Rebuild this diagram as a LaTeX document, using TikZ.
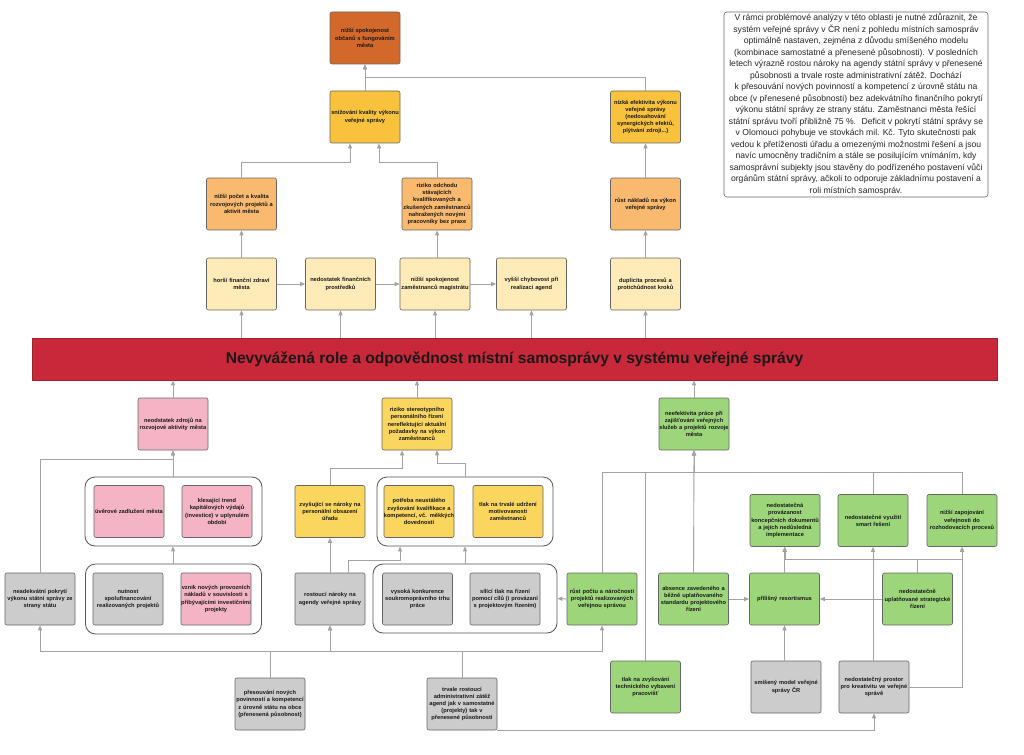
\documentclass[tikz,border=0pt]{standalone}
\usepackage{fontspec}
\setmainfont{Liberation Sans}
\usetikzlibrary{arrows.meta}
\definecolor{cDark}{HTML}{D2692A}
\definecolor{cGold}{HTML}{F8C23C}
\definecolor{cLOr}{HTML}{F9B96E}
\definecolor{cCream}{HTML}{FEEBB8}
\definecolor{cPink}{HTML}{F4B4C6}
\definecolor{cYel}{HTML}{FAD65E}
\definecolor{cGreen}{HTML}{9DD67A}
\definecolor{cGray}{HTML}{CCCCCC}
\definecolor{cRed}{HTML}{C9283A}
\definecolor{boxline}{HTML}{666666}
\definecolor{contline}{HTML}{555555}
\definecolor{linegray}{HTML}{A3A3A3}
\tikzset{
 bx/.style={draw=boxline, rounded corners=2pt, minimum width=70pt, minimum height=52pt, text width=70pt, align=center, inner sep=0pt, font=\fontsize{5.7}{7.2}\selectfont\bfseries, text=black!90, line width=0.6pt},
 cont/.style={draw=contline, rounded corners=10pt, line width=0.8pt, fill=white},
 conn/.style={draw=linegray, line width=0.9pt, -{Triangle[length=5pt,width=4pt]}},
}
\begin{document}
\begin{tikzpicture}[x=1pt,y=-1pt]
\useasboundingbox (0,0) rectangle (1024,754);
\fill[white] (0,0) rectangle (1024,754);

% text box
\node[draw=boxline, rounded corners=3pt, line width=0.6pt, minimum width=264pt, minimum height=185pt, inner sep=0pt, align=center, font=\fontsize{8.6}{11.5}\selectfont, text=black!85] (txt) at (856,104.5) {V rámci problémové analýzy v této oblasti je nutné zdůraznit, že\\ systém veřejné správy v ČR není z pohledu místních samospráv\\ optimálně nastaven, zejména z důvodu smíšeného modelu\\ (kombinace samostatné a přenesené působnosti). V posledních\\ letech výrazně rostou nároky na agendy státní správy v přenesené\\ působnosti a trvale roste administrativní zátěž. Dochází\\ k přesouvání nových povinností a kompetencí z úrovně státu na\\ obce (v přenesené působnosti) bez adekvátního finančního pokrytí\\ výkonu státní správy ze strany státu. Zaměstnanci města řešící\\ státní správu tvoří přibližně 75 \%.~ Deficit v pokrytí státní správy se\\ v Olomouci pohybuje ve stovkách mil. Kč. Tyto skutečnosti pak\\ vedou k přetíženosti úřadu a omezenými možnostmi řešení a jsou\\ navíc umocněny tradičním a stále se posilujícím vnímáním, kdy\\ samosprávní subjekty jsou stavěny do podřízeného postavení vůči\\ orgánům státní správy, ačkoli to odporuje základnímu postavení a\\ roli místních samospráv.};

% top rows
\node[bx, fill=cDark] (A1) at (365,38) {nižší spokojenost\\ občanů s fungováním\\ města};
\node[bx, fill=cGold] (A2) at (365,117) {snižování kvality výkonu\\ veřejné správy};
\node[bx, fill=cGold] (NE) at (645.5,117) {nízká efektivita výkonu\\ veřejné správy\\ (nedosahování\\ synergických efektů,\\ plýtvání zdroji...)};
\node[bx, fill=cLOr] (B1) at (241.5,204) {nižší počet a kvalita\\ rozvojových projektů a\\ aktivit města};
\node[bx, fill=cLOr] (B2) at (437,204) {riziko odchodu\\ stávajících\\ kvalifikovaných a\\ zkušených zaměstnanců\\ nahražených novými\\ pracovníky bez praxe};
\node[bx, fill=cLOr] (B3) at (645.5,204) {růst nákladů na výkon\\ veřejné správy};
\node[bx, fill=cCream] (C1) at (241.5,284) {horší finanční zdraví\\ města};
\node[bx, fill=cCream] (C2) at (340.5,284) {nedostatek finančních\\ prostředků};
\node[bx, fill=cCream] (C3) at (435,284) {nižší spokojenost\\ zaměstnanců magistrátu};
\node[bx, fill=cCream] (C4) at (531.5,284) {vyšší chybovost při\\ realizaci agend};
\node[bx, fill=cCream] (C5) at (645.5,284) {duplicita procesů a\\ protichůdnost kroků};

% banner
\node[fill=cRed, draw=cRed!80!black, line width=0.6pt, minimum width=965pt, minimum height=42pt, inner sep=0pt, font=\fontsize{15.6}{17}\selectfont\bfseries, text=black!90] (BAN) at (514.5,359) {Nevyvážená role a odpovědnost místní samosprávy v systému veřejné správy};

% D row
\node[bx, fill=cPink] (D1) at (173,424) {neodstatek zdrojů na\\ rozvojové aktivity města};
\node[bx, fill=cYel] (D2) at (417,424) {riziko stereotypního\\ personálního řízení\\ nereflektující aktuální\\ požadavky na výkon\\ zaměstnanců};
\node[bx, fill=cGreen] (D3) at (694,424) {neefektivita práce při\\ zajišťování veřejných\\ služeb a projektů rozvoje\\ města};

% containers
\node[cont, minimum width=177pt, minimum height=69pt] (K1) at (173.5,511.5) {};
\node[cont, minimum width=176pt, minimum height=70pt] (K2) at (173.5,599) {};
\node[cont, minimum width=176pt, minimum height=69pt] (K3) at (465,511.5) {};
\node[cont, minimum width=184pt, minimum height=69pt] (K4) at (465,598.5) {};

% left group
\node[bx, fill=cPink] (U1) at (129,511.5) {úvěrové zadlužení města};
\node[bx, fill=cPink] (U2) at (217,511.5) {klesající trend\\ kapitálových výdajů\\ (investice) v uplynulém\\ období};
\node[bx, fill=cGray] (NU) at (128,599) {nutnost\\ spolufinancování\\ realizovaných projektů};
\node[bx, fill=cPink] (VZ) at (216,599) {vznik nových provozních\\ nákladů v souvislosti s\\ přibývajícími investičními\\ projekty};
\node[bx, fill=cGray] (NA) at (40,599) {neadekvátní pokrytí\\ výkonu státní správy ze\\ strany státu};

% middle group
\node[bx, fill=cYel] (ZV) at (330,511.5) {zvyšující se nároky na\\ personální obsazení\\ úřadu};
\node[bx, fill=cYel] (PO) at (419,511.5) {potřeba neustálého\\ zvyšování kvalifikace a\\ \makebox[\linewidth]{kompetencí, vč. měkkých}\\ dovedností};
\node[bx, fill=cYel] (TM) at (508,511.5) {tlak na trvalé udržení\\ motivovanosti\\ zaměstnanců};
\node[bx, fill=cGray] (RN) at (330,599) {rostoucí nároky na\\ agendy veřejné správy};
\node[bx, fill=cGray] (VK) at (417.5,599) {vysoká konkurence\\ soukromoprávního trhu\\ práce};
\node[bx, fill=cGray] (SI) at (505,599) {sílící tlak na řízení\\ pomocí cílů (i provázaní\\ s projektovým řízením)};

% right group
\node[bx, fill=cGreen] (RP) at (602,599) {růst počtu a náročnosti\\ projektů realizovaných\\ veřejnou správou};
\node[bx, fill=cGreen] (AB) at (693.5,599) {absence zavedeného a\\ běžně uplatňovaného\\ standardu projektového\\ řízení};
\node[bx, fill=cGreen] (RE) at (784.5,599) {přílišný resortismus};
\node[bx, fill=cGreen] (ST) at (917.5,599) {nedostatečně\\ uplatňované strategické\\ řízení};
\node[bx, fill=cGreen] (PV) at (785,520.5) {nedostatečná\\ provázanost\\ koncepčních dokumentů\\ a jejich nedůsledná\\ implementace};
\node[bx, fill=cGreen] (SM) at (873,520.5) {nedostatečné využití\\ smart řešení};
\node[bx, fill=cGreen] (ZA) at (962,520.5) {nižší zapojování\\ veřejnosti do\\ rozhodovacích procesů};
\node[bx, fill=cGreen] (TT) at (645.5,687) {tlak na zvyšování\\ technického vybavení\\ pracovišť};
\node[bx, fill=cGray] (SMI) at (786,687) {smíšený model veřejné\\ správy ČR};
\node[bx, fill=cGray] (PR) at (874,687) {nedostatečný prostor\\ pro kreativitu ve veřejné\\ správě};

% bottom
\node[bx, fill=cGray] (PS) at (270,704) {přesouvání nových\\ povinností a kompetencí\\ z úrovně státu na obce\\ (přenesená působnost)};
\node[bx, fill=cGray] (TR) at (462,704) {trvale rostoucí\\ administrativní zátěž\\ agend jak v samostatné\\ (projekty) tak v\\ přenesené působnosti};

% ---- connectors: top
\draw[conn] (A2.north) -- (A1.south);
\draw[conn] (NE.north) |- ([yshift=-13pt]A1.south) -- (A1.south);
\draw[conn] (B1.north) |- ([xshift=-15pt,yshift=-19pt]A2.south) -- ([xshift=-15pt]A2.south);
\draw[conn] (B2.north) |- ([xshift=14pt,yshift=-19pt]A2.south) -- ([xshift=14pt]A2.south);
\draw[conn] (B3.north) -- (NE.south);
\draw[conn] (C1.north) -- (B1.south);
\draw[conn] (C3.north -| B2.south) -- (B2.south);
\draw[conn] (C5.north) -- (B3.south);
\draw[conn] (C1.east) -- (C2.west);
\draw[conn] (C2.east) -- (C3.west);
\draw[conn] (C3.east) -- (C4.west);
\draw[conn] (BAN.north -| C1.south) -- (C1.south);
\draw[conn] (BAN.north -| C2.south) -- (C2.south);
\draw[conn] (BAN.north -| C3.south) -- (C3.south);
\draw[conn] (BAN.north -| C4.south) -- (C4.south);
\draw[conn] (BAN.north -| C5.south) -- (C5.south);
\draw[conn] (D1.north) -- (BAN.south -| D1.north);
\draw[conn] (D2.north) -- (BAN.south -| D2.north);
\draw[conn] (D3.north) -- (BAN.south -| D3.north);

% left group
\draw[conn] (NA.north) |- ([yshift=-9pt]D1.south) -- (D1.south);
\draw[conn] (K1.north -| D1.south) -- (D1.south);
\draw[conn] (K2.north -| D1.south) -- (K1.south -| D1.south);
\draw[conn] (PS.north) |- ([yshift=-26pt]NA.south) -- (NA.south);
\draw[conn] (PS.north) |- ([yshift=-26pt]RN.south) -- (RN.south);
\draw[conn] (TR.north) |- ([yshift=-26pt]RN.south) -- (RN.south);
\draw[conn] (TR.north) |- ([yshift=-26pt]RP.south) -- (RP.south);
\draw[conn] (TR.south east) -| (PR.south);

% middle group
\draw[conn] (RN.north) -- (ZV.south);
\draw[conn] ([xshift=18pt]RN.north) |- ([xshift=-65pt,yshift=-14pt]K3.south) -- ([xshift=-65pt]K3.south);
\draw[conn] (K4.north) -- (K3.south);
\draw[conn] (ZV.north) |- ([xshift=-15pt,yshift=-18pt]D2.south) -- ([xshift=-15pt]D2.south);
\draw[conn] (K3.north) |- ([xshift=20pt,yshift=-13pt]D2.south) -- ([xshift=20pt]D2.south);
\draw[conn] (RP.west) -- (K4.east);

% right group
\draw[conn] (RP.north) |- ([yshift=-22pt]D3.south) -- (D3.south);
\draw[conn] (TT.north) |- ([yshift=-22pt]D3.south) -- (D3.south);
\draw[conn] (AB.north) -- (D3.south);
\draw[conn] (SM.north) |- ([yshift=-22pt]D3.south) -- (D3.south);
\draw[conn] (ZA.north) |- ([yshift=-22pt]D3.south) -- (D3.south);
\draw[conn] (AB.east) -- (RE.west);
\draw[conn] (ST.west) -- (RE.east);
\draw[conn] (SMI.north -| RE.south) -- (RE.south);
\draw[conn] (RE.north) -- (PV.south -| RE.north);
\draw[conn] (ST.north) |- ([yshift=-13pt]PV.south) -- (PV.south);
\draw[conn] (ST.north) |- ([yshift=-13pt]ZA.south) -- (ZA.south);
\draw[conn] (PR.north -| SM.south) -- (SM.south);
\draw[conn] (PR.east) -| (ZA.south);
\end{tikzpicture}
\end{document}
